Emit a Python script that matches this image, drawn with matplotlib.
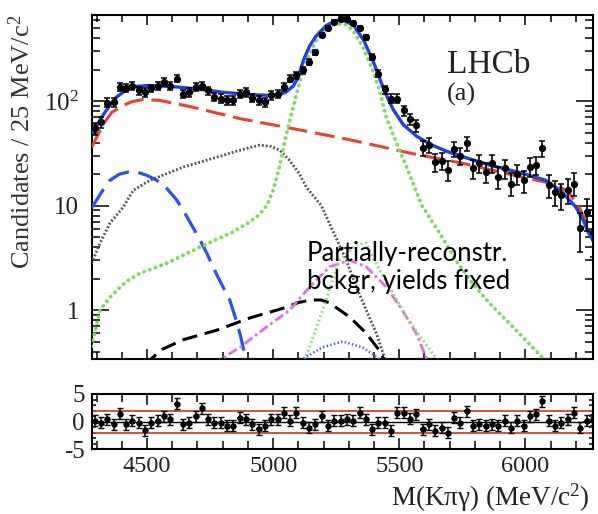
import numpy as np
import matplotlib
matplotlib.use("Agg")
import matplotlib.pyplot as plt
from matplotlib.ticker import MultipleLocator, FixedLocator, LogLocator, NullFormatter

plt.rcParams['font.family'] = ['Liberation Serif', 'DejaVu Serif']
plt.rcParams['mathtext.fontset'] = 'custom'
plt.rcParams['mathtext.rm'] = 'Liberation Serif'
plt.rcParams['mathtext.it'] = 'Liberation Serif:italic'

# data: candidates per 25 MeV bin, first bin centred at 4292.5
bin_lo = 4280
bin_w = 25
counts = [55, 63, 97, 98, 137, 135, 141, 127, 122, 133,
          141, 153, 141, 165, 118, 122, 137, 141, 127, 110,
          106, 102, 102, 118, 122, 108, 102, 98, 114, 118,
          137, 165, 178, 198, 239, 295, 430, 500, 575, 620,
          620, 560, 500, 410, 265, 184, 130, 106, 106, 82,
          68, 59, 36, 38, 26, 27, 22, 35, 30, 39.5,
          22.7, 25.4, 21, 25.4, 18.9, 22.7, 16.3, 20.2, 17.5, 23.5,
          24.4, 35.3, 15.7, 13.5, 12.6, 14.1, 16.3, 6.1, 8.7, 5.6]
pulls = [0.1, -0.2, 0.4, -0.5, 1.4, -0.5, 0.1, -0.2, -1.6, -0.2,
         0.1, 1.0, 0.4, 3.2, -0.5, -0.2, 1.0, 2.4, 0.4, -0.2,
         -0.2, -0.8, -0.8, 0.7, 0.4, -0.5, -1.4, -0.8, 0.4, 0.4,
         1.6, 0.1, 1.6, -0.2, -1.1, -0.5, 1.0, -0.8, 0.1, 0.1,
         0.4, 0.1, 1.6, 0.4, -1.4, -0.2, -0.2, -1.7, 1.6, 1.6,
         0.5, 1.3, -1.4, -0.5, -1.7, -1.1, -2.0, 0.7, -0.2, 1.9,
         -0.8, -0.5, -0.8, -0.5, -0.8, 0.1, -1.1, 0.1, -0.8, 1.0,
         1.3, 3.7, 0.1, -0.8, -0.2, 0.4, 1.6, -1.1, 0.1, 0.4]

# total fit
tot_m = [4280, 4300, 4320, 4350, 4380, 4420, 4460, 4500, 4560, 4620, 4700, 4800,
         4900, 4980, 5020, 5050, 5080, 5100, 5120, 5145, 5170, 5210, 5250, 5280,
         5320, 5360, 5400, 5440, 5475, 5515, 5570, 5630, 5690, 5770, 5860, 5990,
         6080, 6145, 6200, 6230, 6250, 6270]
tot_v = [50, 58, 70, 90, 110, 130, 139, 141, 140, 137, 131, 122,
         116, 114, 115, 122, 140, 170, 247, 340, 420, 530, 595, 598,
         530, 380, 230, 127, 84, 60, 46, 38, 33, 28.5, 24.4, 20.4,
         17.5, 13.5, 9.7, 7.2, 5.5, 4.6]
# combinatorial background
comb_m = [4280, 4300, 4330, 4360, 4400, 4440, 4484, 4550, 4670, 4870, 5040, 5300,
          5550, 5750, 5990, 6080, 6120, 6170, 6210, 6240, 6270]
comb_v = [36, 45, 62, 78, 90, 99, 104, 102, 89, 68, 57, 43,
          31.6, 25.5, 18.7, 16.8, 16.0, 13.5, 10, 7, 4.4]
# signal
sig_m = [4280, 4314, 4350, 4381, 4420, 4472, 4578, 4709, 4840, 4900, 4945, 4975,
         5000, 5026, 5045, 5065, 5092, 5118, 5145, 5171, 5211, 5250, 5283, 5316,
         5356, 5395, 5422, 5448, 5474, 5501, 5534, 5590, 5659, 5725, 5790, 5857,
         5924, 5990, 6068, 6100]
sig_v = [0.45, 1.0, 1.3, 1.55, 1.9, 2.25, 2.8, 4.0, 5.6, 6.8, 8.2, 10,
         14, 24, 40, 64, 115, 198, 285, 380, 500, 550, 550, 480,
         330, 198, 127, 71, 49, 34, 21.9, 10, 5.5, 3.0, 1.8, 1.17,
         0.8, 0.55, 0.35, 0.3]
# partially reconstructed, broad
part_m = [4280, 4314, 4353, 4405, 4445, 4512, 4643, 4775, 4868, 4947, 4990, 5026,
          5066, 5105, 5132, 5191, 5236, 5290, 5330, 5369, 5409, 5435, 5450]
part_v = [2.8, 4.4, 6.8, 9.6, 14, 17.5, 23.4, 29, 34, 38, 37, 34,
          27, 20, 15, 10, 5.8, 3.0, 1.66, 1.0, 0.6, 0.39, 0.3]
# low-mass component
low_m = [4280, 4320, 4353, 4390, 4425, 4460, 4500, 4539, 4580, 4618, 4650, 4682,
         4710, 4737, 4780, 4828, 4850, 4868, 4885, 4900]
low_v = [9.5, 13.5, 17.5, 20, 21, 21, 19.5, 17.5, 14.5, 11.3, 8.5, 6.2,
         4.7, 3.5, 2.1, 1.25, 0.85, 0.6, 0.4, 0.3]
# fixed-yield backgrounds
fixa_m = [4490, 4560, 4643, 4775, 4907, 5039, 5100, 5150, 5190, 5224, 5303, 5369, 5421, 5450]
fixa_v = [0.3, 0.42, 0.52, 0.64, 0.84, 1.04, 1.18, 1.25, 1.25, 1.17, 0.86, 0.6, 0.41, 0.3]
fixb_m = [4760, 4868, 4975, 5066, 5093, 5145, 5224, 5303, 5369, 5449, 5512, 5567, 5607, 5625]
fixb_v = [0.3, 0.44, 0.69, 1.0, 1.2, 1.66, 2.6, 3.0, 2.6, 1.66, 1.0, 0.6, 0.35, 0.3]
fixc_m = [5120, 5196, 5263, 5330, 5369, 5395, 5461, 5528, 5592, 5645, 5665]
fixc_v = [0.3, 1.0, 3.0, 4.2, 4.4, 3.2, 1.66, 0.86, 0.52, 0.35, 0.3]
fixd_m = [5105, 5117, 5196, 5275, 5354, 5415, 5440]
fixd_v = [0.3, 0.34, 0.44, 0.50, 0.44, 0.35, 0.3]

mass = bin_lo + bin_w / 2 + bin_w * np.arange(len(counts))
counts = np.array(counts)

W, H = 598, 514
fig = plt.figure(figsize=(W / 100, H / 100), dpi=100)
ax = fig.add_axes([91.5 / W, 1 - 359 / H, (593 - 91.5) / W, (359 - 15) / H])
rax = fig.add_axes([91.5 / W, 1 - 449 / H, (593 - 91.5) / W, (449 - 394) / H])

# curves
ax.plot(comb_m, comb_v, color='#e8432c', lw=2.2, ls=(0, (6.5, 2.6)), zorder=3)
ax.plot(low_m, low_v, color='#2a52f0', lw=2.3, ls=(0, (7, 3)), zorder=3)
ax.plot(part_m, part_v, color='#555555', lw=2.0, ls=(0, (0.7, 0.7)), zorder=3)
ax.plot(fixa_m, fixa_v, color='black', lw=2.2, ls=(0, (5, 2.5)), zorder=3)
ax.plot(fixb_m, fixb_v, color='#e06ee0', lw=2.0, ls=(0, (3.5, 1.2, 1, 1.2)), zorder=3)
ax.plot(fixc_m, fixc_v, color='#96d87c', lw=2.2, ls=(0, (0.6, 0.9)), zorder=3)
ax.plot(fixd_m, fixd_v, color='#4a62e6', lw=1.8, ls=(0, (0.6, 0.9)), zorder=3)
ax.plot(sig_m, sig_v, color='#7edc5c', lw=2.8, ls=(0, (0.05, 1.5)),
        dash_capstyle='round', zorder=3)
ax.plot(tot_m, tot_v, color='#1f3fe8', lw=2.4, zorder=4)

# data
ax.errorbar(mass, counts, xerr=9, fmt='none', ecolor='black', elinewidth=1.1, zorder=5)
ax.errorbar(mass, counts, yerr=np.sqrt(counts), fmt='o', ms=4.2, color='black',
            ecolor='black', elinewidth=1.2, capsize=2, capthick=1.1, zorder=5)

ax.set_yscale('log')
ax.set_xlim(4280, 6268)
ax.set_ylim(0.34, 670)
ax.xaxis.set_major_locator(MultipleLocator(500))
ax.xaxis.set_minor_locator(MultipleLocator(100))
ax.yaxis.set_major_locator(FixedLocator([1, 10, 100]))
ax.yaxis.set_minor_locator(LogLocator(base=10, subs=np.arange(2, 10)))
ax.yaxis.set_minor_formatter(NullFormatter())
ax.set_yticklabels(['1', '10', '10$^2$'])
ax.tick_params(which='both', direction='in', top=True, right=True, labelbottom=False,
               labelsize=18, labelcolor='#222222', width=1.1, pad=9)
ax.tick_params(axis='x', which='major', length=7.5)
ax.tick_params(axis='x', which='minor', length=5)
ax.tick_params(axis='y', which='major', length=12)
ax.tick_params(axis='y', which='minor', length=6)
for s in ax.spines.values():
    s.set_linewidth(1.5)

# residuals
rax.axhline(2, color='#d2452a', lw=1.3, zorder=2)
rax.axhline(-2, color='#d2452a', lw=1.3, zorder=2)
rax.axhline(0, color='black', lw=1.0, zorder=2)
rax.errorbar(mass, pulls, xerr=9, fmt='none', ecolor='black', elinewidth=1.1, zorder=3)
rax.errorbar(mass, pulls, yerr=1, fmt='o', ms=3.6, color='black', ecolor='black',
             elinewidth=1.1, capsize=2, capthick=1.0, zorder=3)
rax.set_xlim(4280, 6268)
rax.set_ylim(-5, 5)
rax.xaxis.set_major_locator(MultipleLocator(500))
rax.xaxis.set_minor_locator(MultipleLocator(100))
rax.yaxis.set_major_locator(FixedLocator([-5, 0, 5]))
rax.yaxis.set_minor_locator(MultipleLocator(1))
rax.set_yticklabels(['-5', '0', '5'])
rax.tick_params(which='both', direction='in', top=True, right=True,
                labelsize=18, labelcolor='#222222', width=1.1)
rax.tick_params(axis='x', which='major', length=8, pad=5, labelsize=17.5)
rax.tick_params(axis='x', which='minor', length=6)
rax.tick_params(axis='y', which='major', length=7, pad=5)
rax.tick_params(axis='y', which='minor', length=3)
for s in rax.spines.values():
    s.set_linewidth(1.5)

# labels
fig.text(22 / W, 1 - 142 / H, 'Candidates / 25 MeV/c$^2$', rotation=90,
         ha='center', va='center', fontsize=19, color='#333333')
fig.text(590 / W, 1 - 506 / H, 'M(Kπγ) (MeV/c$^2$)', ha='right', va='baseline',
         fontsize=19.5, color='#222222')
fig.text(447 / W, 1 - 73 / H, 'LHCb', ha='left', va='baseline', fontsize=24,
         color='#222222')
fig.text(447 / W, 1 - 101 / H, '(a)', ha='left', va='baseline', fontsize=19,
         color='#222222')
fig.text(307 / W, 1 - 261 / H, 'Partially-reconstr.', ha='left', va='baseline',
         fontsize=18.5, family=['Lato', 'DejaVu Sans'], color='black')
fig.text(307 / W, 1 - 289 / H, 'bckgr, yields fixed', ha='left', va='baseline',
         fontsize=18.5, family=['Lato', 'DejaVu Sans'], color='black')

fig.savefig('out.png', dpi=100)
